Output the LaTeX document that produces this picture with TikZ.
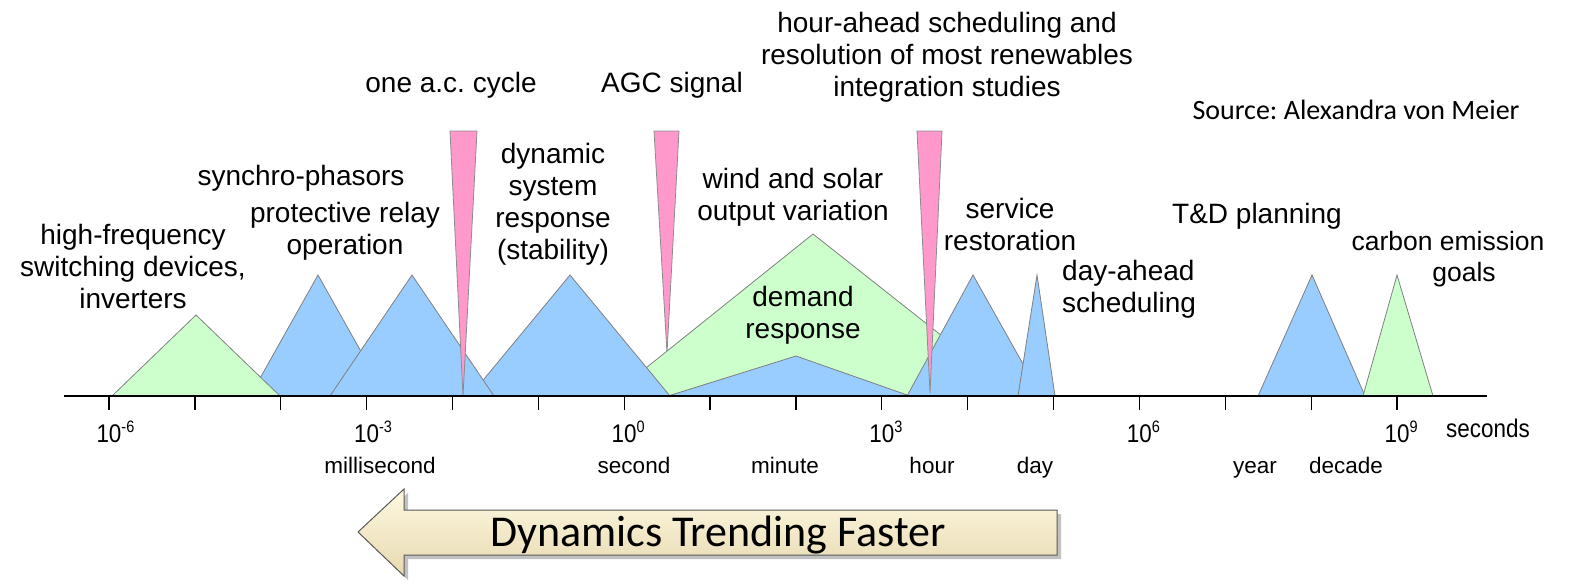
\documentclass[tikz,border=0pt]{standalone}
\usepackage{fontspec}
\setmainfont{Liberation Sans}
\newfontfamily\calib{Carlito}
\usetikzlibrary{shadows}
\definecolor{blueF}{HTML}{99CCFF}
\definecolor{greenF}{HTML}{CCFFCC}
\definecolor{pinkF}{HTML}{FF99CC}
\definecolor{arrTop}{HTML}{FFF9E2}
\definecolor{arrBot}{HTML}{E6D9B0}
\newcommand\myst{\rule{0pt}{21pt}}
\newcommand\axt[1]{\scalebox{0.88}[1]{#1}}
\begin{document}
\frenchspacing
\begin{tikzpicture}[x=1pt,y=-1pt,
  tri/.style={draw=black!50, line width=0.8pt, line join=miter},
  bluetri/.style={tri, fill=blueF},
  greentri/.style={tri, fill=greenF},
  pinktri/.style={tri, draw=black!45, fill=pinkF},
  lbl/.style={font=\fontsize{28}{32}\selectfont, align=center, inner sep=0pt, anchor=north},
  axlbl/.style={font=\fontsize{25.5}{28}\selectfont, inner sep=0pt, anchor=base},
  unitlbl/.style={font=\fontsize{22.5}{26}\selectfont, inner sep=0pt, anchor=base},
  tickline/.style={line width=1.3pt}]
\useasboundingbox (0,0) rectangle (1576,584);
\fill[white] (0,0) rectangle (1576,584);
% triangles, back to front
\path[pinktri] (654,131) -- (679,131) -- (667,353) -- cycle;
\path[greentri] (611,396) -- (813,234) -- (1018,396) -- cycle;
\path[bluetri] (470,396) -- (570,275) -- (670,396) -- cycle;
\path[bluetri] (250,396) -- (318,275) -- (386,396) -- cycle;
\path[greentri] (112,396) -- (196,315) -- (280,396) -- cycle;
\path[bluetri] (330,396) -- (412,275) -- (494,396) -- cycle;
\path[pinktri] (450,131) -- (477,131) -- (463,396) -- cycle;
\path[bluetri] (668,396) -- (796,356) -- (910,396) -- cycle;
\path[bluetri] (907,396) -- (973,275) -- (1041,396) -- cycle;
\path[pinktri] (917,131) -- (942,131) -- (930,393) -- cycle;
\path[bluetri] (1018,396) -- (1037,275) -- (1055,396) -- cycle;
\path[bluetri] (1258,396) -- (1312,275) -- (1365,396) -- cycle;
\path[greentri] (1363,396) -- (1397,275) -- (1433,396) -- cycle;
% axis
\coordinate (axL) at (64,396);
\coordinate (axR) at (1487,396);
\draw[line width=1.5pt] (axL) -- (axR);
\foreach \k in {0,...,15} \draw[tickline] ({109+85.87*\k},396) -- ({109+85.87*\k},410);
\foreach \e/\k in {-6/0,-3/3,0/6,3/9,6/12,9/15}
  \node[axlbl] (t\k) at ({109+85.87*\k},442) {\axt{10}\rlap{\raisebox{10pt}{\fontsize{16.5}{18}\selectfont\axt{\e}}}};
\node[axlbl] (sec) at (1488,437) {\axt{seconds}};
\node[unitlbl] (ms) at (380,473) {millisecond};
\node[unitlbl] (s) at (634,473) {second};
\node[unitlbl] (mn) at (785,473) {minute};
\node[unitlbl] (hr) at (932,473) {hour};
\node[unitlbl] (dy) at (1035,473) {day};
\node[unitlbl] (yr) at (1255,473) {year};
\node[unitlbl] (dc) at (1346,473) {decade};
% labels
\node[lbl] (hf) at (133,223) {\myst high-frequency\\switching devices,\\inverters};
\node[lbl] (sp) at (301,164) {\myst synchro-phasors};
\node[lbl] (pr) at (345,201) {\myst protective relay\\operation};
\node[lbl] (ac) at (451,71) {\myst one a.c. cycle};
\node[lbl] (ds) at (553,142) {\myst dynamic\\system\\response\\(stability)};
\node[lbl] (agc) at (672,71) {\myst AGC signal};
\node[lbl] (ws) at (793,167) {\myst wind and solar\\output variation};
\node[lbl] (dr) at (803,285) {\myst demand\\response};
\node[lbl] (ha) at (947,11) {\myst hour-ahead scheduling and\\resolution of most renewables\\integration studies};
\node[lbl] (sr) at (1010,197) {\myst service\\restoration};
\node[lbl, align=left, anchor=north west] (da) at (1062,259) {\myst day-ahead\\scheduling};
\node[lbl] (td) at (1257,202) {\myst T\&D planning};
\node[lbl, font=\fontsize{26.5}{31}\selectfont] (ce) at (1448,229) {\myst carbon emission\\\hspace*{32pt}goals};
\node[font=\calib\fontsize{28}{32}\selectfont, inner sep=0pt, anchor=base] (src) at (1356,119) {Source: Alexandra von Meier};
% arrow
\path[draw=black!65, line width=1pt, top color=arrTop, bottom color=arrBot,
  drop shadow={shadow xshift=4pt, shadow yshift=-4pt, opacity=0.4, fill=black!60}]
  (358,532) -- (404,489) -- (404,510) -- (1057,510) -- (1057,555) -- (404,555) -- (404,576) -- cycle;
\node[font=\calib\fontsize{44}{50}\selectfont, inner sep=0pt, anchor=base] (arrtxt) at (718,546) {Dynamics Trending Faster};
\end{tikzpicture}
\end{document}
